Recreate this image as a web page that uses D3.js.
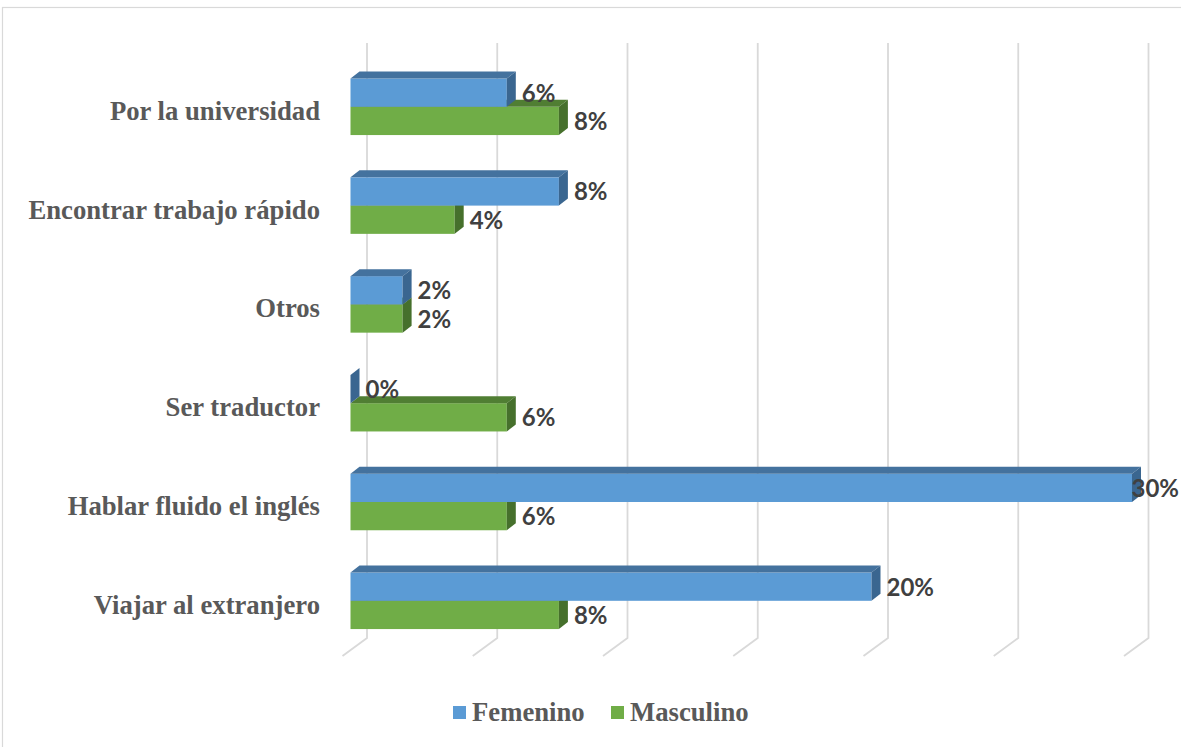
<!DOCTYPE html>
<html>
<head>
<meta charset="utf-8">
<script src="https://cdn.jsdelivr.net/npm/d3@7"></script>
<style>
  html, body { margin: 0; padding: 0; background: #fff; }
  svg { display: block; }
</style>
</head>
<body>
<svg id="chart" width="1181" height="747"></svg>
<script>
// Motivos para aprender inglés, por sexo (porcentaje)
const categories = [
  "Por la universidad",
  "Encontrar trabajo rápido",
  "Otros",
  "Ser traductor",
  "Hablar fluido el inglés",
  "Viajar al extranjero"
];
const femenino  = [6, 8, 2, 0, 30, 20];
const masculino = [8, 4, 2, 6, 6, 8];
const seriesNames = ["Femenino", "Masculino"];
const gridTicks = [0, 5, 10, 15, 20, 25, 30];

const W = 1181, H = 747;
const svg = d3.select("#chart");

// palette: front face, top face, side face
const palette = {
  Femenino:  { front: "#5B9BD5", top: "#44729E", side: "#3A6690" },
  Masculino: { front: "#70AD47", top: "#507E33", side: "#46702C" }
};

// outer frame
svg.append("rect")
  .attr("x", 2.5).attr("y", 7.5)
  .attr("width", W + 10).attr("height", H + 10)
  .attr("fill", "#fff").attr("stroke", "#d9d9d9").attr("stroke-width", 1.2);

// value scale on the front plane of the bars
const x = d3.scaleLinear().domain([0, 30]).range([350.5, 1132]);

// 3D offsets
const wall = { dx: 16.5 };          // back wall relative to bar front plane
const floor = { dx: -24.5, dy: 18 }; // floor depth toward viewer
const depth = { dx: 9, dy: -7 };     // bar depth (front -> back)
const gridTop = 43, gridBottom = 638;

// category bands
const y = d3.scaleBand()
  .domain(categories)
  .range([57.4, 650.2])
  .paddingInner(0.428)
  .paddingOuter(0.214);
const ySub = d3.scaleBand()
  .domain(seriesNames)
  .range([0, y.bandwidth()]);

// gridlines: back wall + floor diagonal
const grid = svg.append("g").attr("fill", "none")
  .attr("stroke", "#d9d9d9").attr("stroke-width", 1.8);
gridTicks.forEach(t => {
  const bx = x(t) + wall.dx;
  grid.append("path")
    .attr("d", `M${bx},${gridTop}L${bx},${gridBottom}L${bx + floor.dx},${gridBottom + floor.dy}`);
});

// bars
const bars = svg.append("g");
function drawBar(cat, name, v) {
  const c = palette[name];
  const x0 = x(0), x1 = x(v);
  const yt = y(cat) + ySub(name);
  const yb = yt + ySub.bandwidth();
  const g = bars.append("g");
  // front
  g.append("rect").attr("x", x0).attr("y", yt)
    .attr("width", x1 - x0).attr("height", yb - yt).attr("fill", c.front);
  // top
  g.append("path").attr("fill", c.top)
    .attr("d", `M${x0},${yt}L${x1},${yt}L${x1 + depth.dx},${yt + depth.dy}L${x0 + depth.dx},${yt + depth.dy}Z`);
  // side
  g.append("path").attr("fill", c.side)
    .attr("d", `M${x1},${yt}L${x1 + depth.dx},${yt + depth.dy}L${x1 + depth.dx},${yb + depth.dy}L${x1},${yb}Z`);
}
categories.forEach((cat, i) => {
  drawBar(cat, "Masculino", masculino[i]);
  drawBar(cat, "Femenino", femenino[i]);
});

// data labels
const labels = svg.append("g")
  .attr("font-family", "Lato, 'Open Sans', sans-serif")
  .attr("font-weight", "bold").attr("font-size", 24).attr("fill", "#404040");
categories.forEach((cat, i) => {
  [["Femenino", femenino[i]], ["Masculino", masculino[i]]].forEach(([name, v]) => {
    const yc = y(cat) + ySub(name) + ySub.bandwidth() / 2;
    const t = labels.append("text")
      .attr("x", x(v) + 15)
      .attr("y", yc + 9)
      .text(v + "%");
    const w = t.node().getComputedTextLength();
    if (x(v) + 15 + w > W - 2) t.attr("x", W - 2 - w);
  });
});

// category labels
svg.append("g")
  .attr("font-family", "'Liberation Serif', 'Times New Roman', serif")
  .attr("font-weight", "bold").attr("font-size", 26.7).attr("fill", "#595959")
  .attr("text-anchor", "end")
  .selectAll("text").data(categories).join("text")
  .attr("x", 320)
  .attr("y", d => y(d) + y.bandwidth() / 2 + 13)
  .text(d => d);

// legend
const legend = svg.append("g")
  .attr("font-family", "'Liberation Serif', 'Times New Roman', serif")
  .attr("font-weight", "bold").attr("font-size", 26.7).attr("fill", "#595959");
const legendX = [453, 611];
seriesNames.forEach((name, i) => {
  legend.append("rect").attr("x", legendX[i]).attr("y", 706)
    .attr("width", 13).attr("height", 13).attr("fill", palette[name].front);
  legend.append("text").attr("x", legendX[i] + 19).attr("y", 721).text(name);
});
</script>
</body>
</html>
